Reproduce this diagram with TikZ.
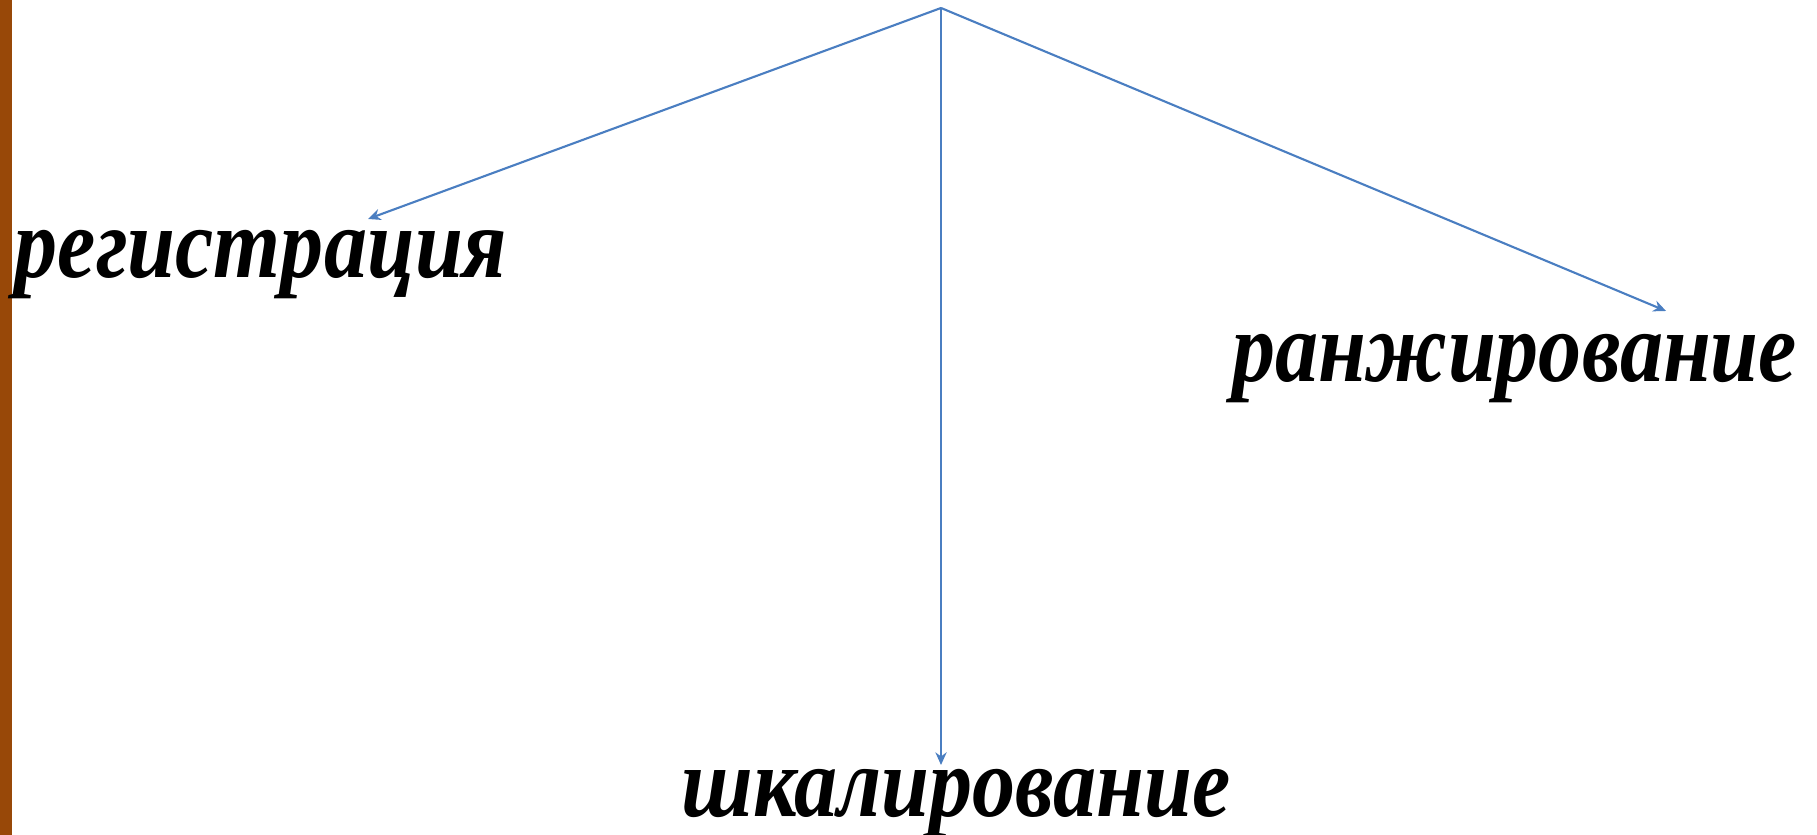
\documentclass[tikz,border=0pt]{standalone}
\usepackage{fontspec}
\setmainfont{Liberation Serif}
\newfontfamily\termfont[FakeStretch=0.86]{Liberation Serif}
\usepackage{tikz}
\usetikzlibrary{arrows.meta,positioning,calc}
\usepackage{xcolor}
\definecolor{barbrown}{RGB}{152,72,8}
\definecolor{linkblue}{RGB}{74,126,193}

\begin{document}
\begin{tikzpicture}[
        term/.style={anchor=base, inner sep=0pt, font=\termfont\fontsize{28.5}{34}\selectfont\bfseries\itshape},
        link/.style={draw=linkblue, line width=0.6pt, -{Stealth[length=3.6pt, width=3.2pt]}}
    ]
        \useasboundingbox (0,0) rectangle (18.17,8.35);
        % Bande laterale
        \fill[barbrown] (0,0) rectangle (0.12,8.35);
        % Termes
        \node[term] (reg) at (2.61,5.57) {регистрация};
        \node[term] (rang) at (15.145,4.53) {ранжирование};
        \node[term] (shkal) at (9.56,0.18) {шкалирование};
        % Sommet et extremites des fleches
        \coordinate (top) at (9.41,8.27);
        \coordinate (regend) at (3.68,6.16);
        \coordinate (rangend) at (16.66,5.24);
        \coordinate (shkalend) at (9.41,0.70);
        \draw[link] (top) -- (regend);
        \draw[link] (top) -- (rangend);
        \draw[link] (top) -- (shkalend);
    \end{tikzpicture}
\end{document}
